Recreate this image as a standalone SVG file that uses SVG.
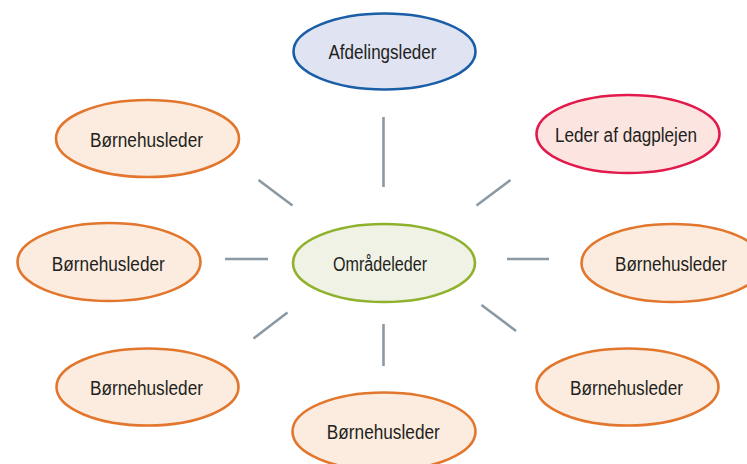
<svg xmlns="http://www.w3.org/2000/svg" width="747" height="464" viewBox="0 0 747 464">
<style>
text{font-family:"Liberation Sans",Arial,sans-serif;font-size:20px;fill:#231f20;text-anchor:middle}
ellipse{stroke-width:2.6}
.blue{fill:#dfe3f2;stroke:#1a5ea8}
.green{fill:#f0f2e5;stroke:#8fb12c}
.red{fill:#fce5e1;stroke:#e21a4b}
.orange{fill:#fcebdf;stroke:#e2762c}
#connectors line{stroke:#8c99a2;stroke-width:2.6;fill:none}
</style>
<rect width="747" height="464" fill="#ffffff"/>
<g id="connectors">
<line x1="383.5" y1="117" x2="383.5" y2="187"/>
<line x1="258.5" y1="180" x2="292.5" y2="205.5"/>
<line x1="510.5" y1="180" x2="476.5" y2="205.5"/>
<line x1="225" y1="259" x2="268" y2="259"/>
<line x1="507" y1="259" x2="549" y2="259"/>
<line x1="287.5" y1="312.5" x2="253.5" y2="338.5"/>
<line x1="481.5" y1="305" x2="516" y2="331"/>
<line x1="383.5" y1="324" x2="383.5" y2="366"/>
</g>
<g id="afdelingsleder"><ellipse class="blue" cx="384.5" cy="51.5" rx="91" ry="38"/><text x="382.5" y="59" textLength="108" lengthAdjust="spacingAndGlyphs">Afdelingsleder</text></g>
<g id="omraadeleder"><ellipse class="green" cx="384" cy="263" rx="91" ry="39"/><text x="380" y="271" textLength="94" lengthAdjust="spacingAndGlyphs">Områdeleder</text></g>
<g id="dagplejen"><ellipse class="red" cx="628" cy="134" rx="91.5" ry="39"/><text x="626" y="142" textLength="142" lengthAdjust="spacingAndGlyphs">Leder af dagplejen</text></g>
<g id="bh-right"><ellipse class="orange" cx="672.5" cy="263" rx="91" ry="39"/><text x="671" y="271" textLength="112" lengthAdjust="spacingAndGlyphs">Børnehusleder</text></g>
<g id="bh-upperleft"><ellipse class="orange" cx="147.5" cy="138.5" rx="91.5" ry="38.5"/><text x="146.5" y="146.5" textLength="113" lengthAdjust="spacingAndGlyphs">Børnehusleder</text></g>
<g id="bh-left"><ellipse class="orange" cx="109" cy="262" rx="91.5" ry="39"/><text x="108.3" y="271" textLength="113" lengthAdjust="spacingAndGlyphs">Børnehusleder</text></g>
<g id="bh-lowerleft"><ellipse class="orange" cx="147.5" cy="387" rx="91" ry="38.5"/><text x="146.5" y="395" textLength="113" lengthAdjust="spacingAndGlyphs">Børnehusleder</text></g>
<g id="bh-bottom"><ellipse class="orange" cx="384" cy="431.5" rx="91.5" ry="39"/><text x="383.3" y="438.5" textLength="113" lengthAdjust="spacingAndGlyphs">Børnehusleder</text></g>
<g id="bh-lowerright"><ellipse class="orange" cx="627.5" cy="387" rx="91" ry="38.5"/><text x="626.5" y="395" textLength="113" lengthAdjust="spacingAndGlyphs">Børnehusleder</text></g>
</svg>
